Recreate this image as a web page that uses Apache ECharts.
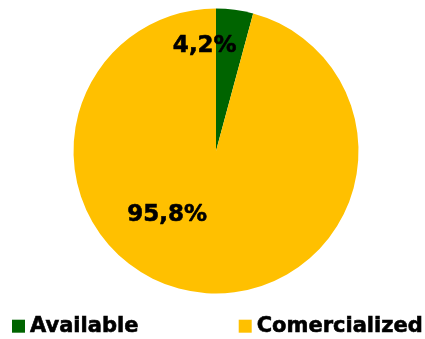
<!DOCTYPE html>
<html><head><meta charset="utf-8">
<script src="https://cdn.jsdelivr.net/npm/echarts@6/dist/echarts.min.js"></script>
<style>html,body{margin:0;padding:0;background:#fff}#c{width:425px;height:339px}</style>
</head><body><div id="c"></div>
<script>
const categories = ['Available', 'Comercialized'];
const values = [4.2, 95.8];
const labels = ['4,2%', '95,8%'];
const colors = ['#006400', '#FFC000'];
const labelOffsets = [[-21, -31], [-39, -10]];

const chart = echarts.init(document.getElementById('c'));
chart.setOption({
  animation: false,
  legend: {
    orient: 'horizontal', bottom: 2, left: 12, width: 413, padding: 0,
    itemWidth: 13, itemHeight: 13, itemGap: 100,
    icon: 'rect',
    textStyle: { fontFamily: 'DejaVu Sans', fontWeight: 'bold', fontSize: 21, color: '#000', textBorderColor: '#000', textBorderWidth: 0.6 },
    data: categories
  },
  series: [{
    type: 'pie', center: [216, 151], radius: 142.5, startAngle: 90, clockwise: true,
    label: { show: true, position: 'inside', fontFamily: 'DejaVu Sans', fontWeight: 'bold', fontSize: 23, color: '#000', textBorderColor: '#000', textBorderWidth: 0.6 },
    labelLine: { show: false },
    itemStyle: { borderWidth: 0 },
    emphasis: { disabled: true },
    data: categories.map((c, i) => ({
      name: c, value: values[i], itemStyle: { color: colors[i] },
      label: { formatter: labels[i], offset: labelOffsets[i] }
    }))
  }]
});
</script></body></html>
